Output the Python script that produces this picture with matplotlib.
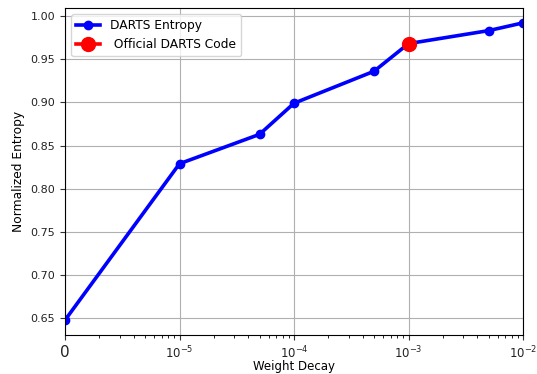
import numpy as np
import matplotlib.pyplot as plt

# weight decay sweep and resulting normalized entropy
weight_decay = [0, 1e-5, 5e-5, 1e-4, 5e-4, 1e-3, 5e-3, 1e-2]
entropy = [0.648, 0.829, 0.863, 0.899, 0.936, 0.968, 0.983, 0.992]
official_wd = [1e-3]
official_entropy = [0.968]

fig = plt.figure(figsize=(5.37, 3.74), dpi=100)
ax = fig.add_axes([65 / 537, 1 - 335 / 374, (523 - 65) / 537, (335 - 8) / 374])

ax.plot(weight_decay, entropy, color='blue', linewidth=2.6, marker='o',
        markersize=6, label='DARTS Entropy')
ax.plot(official_wd, official_entropy, color='red', linewidth=2.6, marker='o',
        markersize=10, label=' Official DARTS Code')

ax.set_xscale('symlog', linthresh=1e-5, linscale=0.9)
ax.set_xlim(0, 1e-2)
ax.set_xticks([0, 1e-5, 1e-4, 1e-3, 1e-2])
ax.set_xticklabels(['0', r'$10^{-5}$', r'$10^{-4}$', r'$10^{-3}$', r'$10^{-2}$'])

# minor ticks: 2..9 per decade, and the same spacing inside the linear part
subs = np.arange(2, 10)
minor = list(1e-5 * np.log10(subs))
for dec in [1e-5, 1e-4, 1e-3]:
    minor += list(dec * subs)
ax.set_xticks(minor, minor=True)

ax.set_yticks([0.65, 0.70, 0.75, 0.80, 0.85, 0.90, 0.95, 1.00])
ax.tick_params(labelsize=8, colors='#333333', labelcolor='#222222')
for lbl in ax.get_xticklabels()[1:]:
    lbl.set_fontsize(8.5)
ax.get_xticklabels()[0].set_fontsize(11)
ax.grid(True, which='major', color='#b0b0b0', linewidth=0.8)

ax.set_xlabel('Weight Decay', fontsize=8.5, labelpad=-1)
ax.set_ylabel('Normalized Entropy', fontsize=8.8)
ax.legend(loc='upper left', fontsize=8.8, framealpha=0.8)

fig.savefig('out.png', dpi=100)
